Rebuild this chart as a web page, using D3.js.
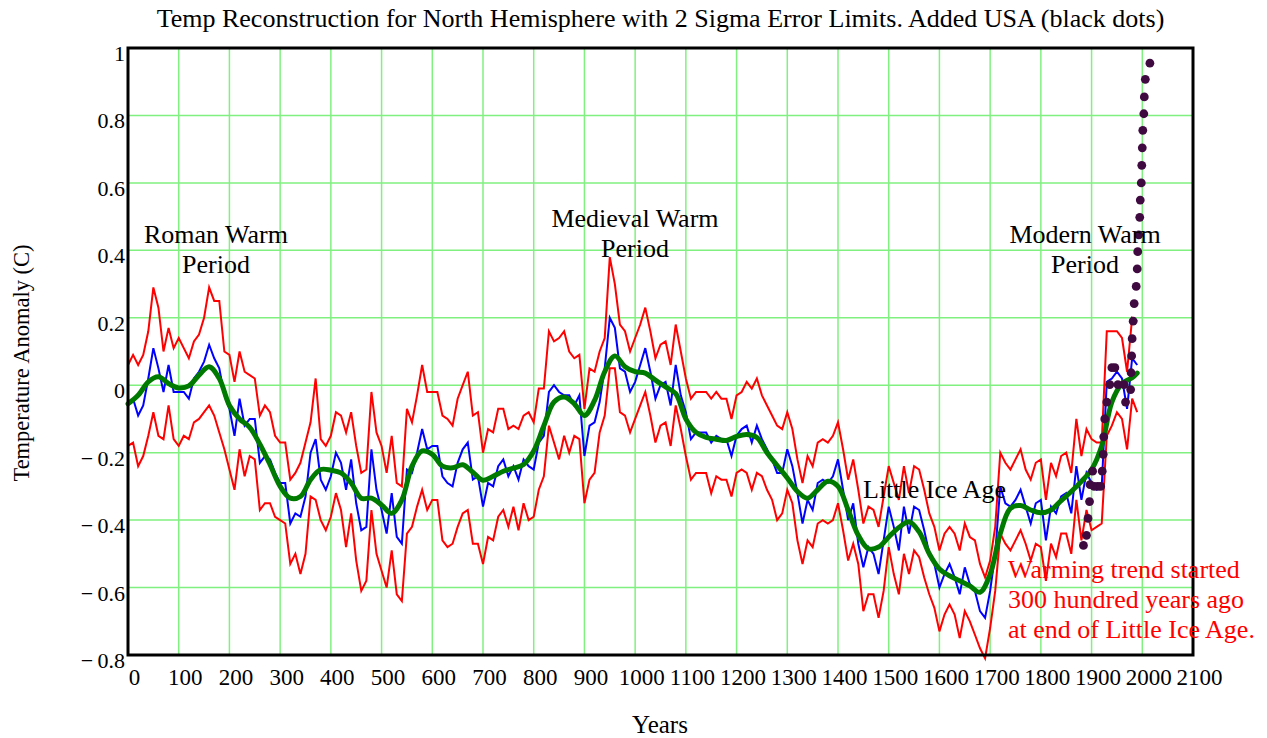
<!DOCTYPE html>
<html>
<head>
<meta charset="utf-8">
<script src="https://cdn.jsdelivr.net/npm/d3@7"></script>
<style>
  body { margin: 0; background: #fff; }
  svg { font-family: "Liberation Serif", "Times New Roman", serif; }
</style>
</head>
<body>
<div id="chart"></div>
<script>
// Chart frame
const FRAME_WIDTH = 1267;
const FRAME_HEIGHT = 738;
const PLOT = {left: 128, right: 1193, top: 48, bottom: 655};

// Decades 0 .. 1990 for the reconstruction series
const years = d3.range(0, 2000, 10);

// Reconstruction (blue), one value per decade
const meanTemp = [
  -0.05,-0.04,-0.09,-0.06,0.02,0.11,0.05,-0.02,0.06,-0.02,
  -0.02,-0.02,-0.04,0.02,0.04,0.07,0.12,0.08,0.05,-0.03,
  -0.07,-0.15,-0.04,-0.12,-0.10,-0.10,-0.23,-0.21,-0.22,-0.26,
  -0.29,-0.29,-0.41,-0.38,-0.39,-0.33,-0.20,-0.16,-0.28,-0.31,
  -0.27,-0.20,-0.23,-0.31,-0.22,-0.35,-0.43,-0.42,-0.19,-0.31,
  -0.37,-0.44,-0.32,-0.45,-0.47,-0.25,-0.26,-0.20,-0.13,-0.19,
  -0.18,-0.18,-0.27,-0.29,-0.30,-0.23,-0.19,-0.17,-0.28,-0.27,
  -0.36,-0.29,-0.30,-0.24,-0.22,-0.27,-0.24,-0.28,-0.22,-0.24,
  -0.25,-0.17,-0.15,-0.02,0.00,-0.02,-0.03,-0.03,-0.06,-0.03,
  -0.21,-0.12,-0.11,-0.05,0.05,0.20,0.17,0.05,0.04,-0.02,
  0.01,0.06,0.11,0.04,-0.04,0.00,0.01,-0.06,0.06,-0.03,
  -0.08,-0.16,-0.14,-0.14,-0.14,-0.17,-0.15,-0.16,-0.16,-0.21,
  -0.15,-0.13,-0.12,-0.17,-0.12,-0.16,-0.19,-0.22,-0.26,-0.26,
  -0.19,-0.24,-0.32,-0.41,-0.34,-0.37,-0.29,-0.28,-0.29,-0.27,
  -0.22,-0.31,-0.40,-0.35,-0.47,-0.54,-0.48,-0.50,-0.56,-0.46,
  -0.36,-0.42,-0.49,-0.36,-0.44,-0.36,-0.37,-0.43,-0.50,-0.53,
  -0.60,-0.56,-0.53,-0.57,-0.62,-0.54,-0.59,-0.61,-0.67,-0.69,
  -0.61,-0.50,-0.30,-0.35,-0.36,-0.34,-0.31,-0.36,-0.41,-0.35,
  -0.34,-0.46,-0.36,-0.38,-0.33,-0.32,-0.38,-0.24,-0.34,-0.26,
  -0.29,-0.31,-0.30,0.01,0.02,0.04,0.02,-0.07,0.08,0.06
];

// Upper 2 sigma limit (red)
const upperTemp = [
  0.06,0.09,0.06,0.09,0.16,0.29,0.23,0.10,0.17,0.11,
  0.14,0.11,0.08,0.13,0.15,0.20,0.29,0.25,0.25,0.10,
  0.09,0.01,0.10,0.04,0.03,0.02,-0.09,-0.06,-0.08,-0.15,
  -0.17,-0.17,-0.28,-0.26,-0.23,-0.17,-0.11,0.02,-0.16,-0.18,
  -0.15,-0.08,-0.09,-0.14,-0.08,-0.18,-0.26,-0.25,-0.02,-0.14,
  -0.18,-0.26,-0.15,-0.29,-0.30,-0.07,-0.11,-0.03,0.06,-0.02,
  -0.02,-0.02,-0.09,-0.10,-0.12,-0.04,0.00,0.04,-0.09,-0.08,
  -0.20,-0.13,-0.14,-0.07,-0.07,-0.13,-0.12,-0.13,-0.09,-0.08,
  -0.11,-0.01,-0.01,0.16,0.13,0.14,0.16,0.10,0.08,0.09,
  -0.07,0.05,0.04,0.10,0.14,0.38,0.30,0.18,0.16,0.10,
  0.14,0.18,0.23,0.16,0.08,0.12,0.13,0.06,0.18,0.10,
  0.02,-0.04,-0.02,-0.02,-0.02,-0.04,-0.02,-0.04,-0.04,-0.10,
  -0.03,-0.02,0.01,-0.01,0.02,-0.03,-0.06,-0.09,-0.12,-0.13,
  -0.08,-0.13,-0.22,-0.29,-0.21,-0.24,-0.17,-0.16,-0.17,-0.15,
  -0.11,-0.19,-0.28,-0.22,-0.31,-0.41,-0.36,-0.37,-0.42,-0.33,
  -0.24,-0.29,-0.34,-0.24,-0.32,-0.24,-0.25,-0.31,-0.38,-0.42,
  -0.49,-0.44,-0.42,-0.44,-0.49,-0.41,-0.45,-0.46,-0.53,-0.57,
  -0.52,-0.42,-0.20,-0.23,-0.25,-0.22,-0.19,-0.25,-0.28,-0.23,
  -0.22,-0.34,-0.23,-0.27,-0.21,-0.20,-0.26,-0.10,-0.21,-0.13,
  -0.16,-0.17,-0.17,0.16,0.16,0.16,0.14,0.04,0.20,0.19
];

// Lower 2 sigma limit (red)
const lowerTemp = [
  -0.18,-0.17,-0.24,-0.21,-0.15,-0.08,-0.15,-0.16,-0.06,-0.16,
  -0.18,-0.15,-0.16,-0.11,-0.10,-0.08,-0.06,-0.09,-0.14,-0.19,
  -0.25,-0.31,-0.19,-0.27,-0.21,-0.22,-0.37,-0.35,-0.35,-0.39,
  -0.40,-0.41,-0.53,-0.50,-0.56,-0.50,-0.33,-0.34,-0.40,-0.43,
  -0.39,-0.32,-0.37,-0.48,-0.38,-0.52,-0.61,-0.58,-0.37,-0.50,
  -0.55,-0.60,-0.49,-0.62,-0.64,-0.44,-0.42,-0.36,-0.31,-0.37,
  -0.34,-0.34,-0.46,-0.48,-0.47,-0.42,-0.38,-0.37,-0.47,-0.47,
  -0.53,-0.45,-0.46,-0.39,-0.37,-0.42,-0.36,-0.43,-0.35,-0.40,
  -0.39,-0.31,-0.27,-0.12,-0.17,-0.22,-0.15,-0.20,-0.15,-0.16,
  -0.35,-0.28,-0.26,-0.14,-0.09,0.05,0.05,-0.08,-0.09,-0.14,
  -0.10,-0.06,-0.02,-0.09,-0.17,-0.12,-0.11,-0.18,-0.06,-0.13,
  -0.21,-0.28,-0.26,-0.26,-0.26,-0.32,-0.27,-0.28,-0.28,-0.33,
  -0.26,-0.25,-0.26,-0.31,-0.26,-0.27,-0.31,-0.34,-0.40,-0.38,
  -0.31,-0.35,-0.46,-0.53,-0.46,-0.48,-0.41,-0.40,-0.41,-0.40,
  -0.35,-0.43,-0.52,-0.47,-0.53,-0.67,-0.62,-0.62,-0.69,-0.61,
  -0.48,-0.56,-0.62,-0.50,-0.56,-0.49,-0.51,-0.57,-0.62,-0.66,
  -0.73,-0.68,-0.65,-0.68,-0.75,-0.67,-0.70,-0.74,-0.78,-0.81,
  -0.72,-0.61,-0.44,-0.47,-0.49,-0.46,-0.43,-0.47,-0.52,-0.47,
  -0.48,-0.58,-0.47,-0.51,-0.44,-0.44,-0.50,-0.34,-0.46,-0.37,
  -0.43,-0.42,-0.41,-0.15,-0.12,-0.08,-0.10,-0.19,-0.04,-0.08
];

// Smoothed reconstruction (green)
const smoothYears = [0,20,40,60,80,100,120,140,160,180,200,220,240,260,280,300,320,340,360,380,
  400,420,440,460,480,500,520,540,560,580,600,620,640,660,680,700,720,740,760,780,
  800,820,840,860,880,900,920,940,960,980,1000,1020,1040,1060,1080,1100,1120,1140,1160,1180,
  1200,1220,1240,1260,1280,1300,1320,1340,1360,1380,1400,1420,1440,1460,1480,1500,1520,1540,1560,1580,
  1600,1620,1640,1660,1680,1700,1720,1740,1760,1780,1800,1820,1840,1860,1880,1900,1920,1940,1960,1980,1990];
const smoothTemp = [-0.055,-0.03,0.01,0.025,0.005,-0.008,-0.002,0.03,0.055,0.02,
  -0.06,-0.10,-0.125,-0.175,-0.235,-0.30,-0.335,-0.33,-0.28,-0.25,
  -0.252,-0.26,-0.29,-0.335,-0.335,-0.355,-0.38,-0.34,-0.24,-0.195,
  -0.205,-0.24,-0.245,-0.236,-0.258,-0.282,-0.27,-0.255,-0.246,-0.235,
  -0.195,-0.12,-0.05,-0.035,-0.055,-0.09,-0.045,0.04,0.087,0.055,
  0.04,0.036,0.015,-0.005,-0.025,-0.10,-0.14,-0.155,-0.16,-0.164,
  -0.152,-0.146,-0.155,-0.20,-0.238,-0.275,-0.315,-0.335,-0.31,-0.285,
  -0.30,-0.37,-0.445,-0.485,-0.48,-0.45,-0.422,-0.405,-0.435,-0.50,
  -0.545,-0.565,-0.58,-0.595,-0.614,-0.56,-0.44,-0.365,-0.357,-0.37,
  -0.378,-0.37,-0.342,-0.315,-0.285,-0.25,-0.18,-0.05,0.005,0.022,0.036];

// USA series (black dots)
const usaYears = [1884,1890,1893,1896,1897,1902,1905,1912,1918,1921,1923,1924,1926,1930,1936,1940,1946,1952,1964,1967,
  1977,1978,1979,1980,1982,1984,1988,1990,1991,1993,1995,1996,1998,1999,2000,2001,2003,2004,2006,2015];
const usaTemp = [-0.475,-0.445,-0.395,-0.345,-0.295,-0.255,-0.30,-0.30,-0.30,-0.255,-0.205,-0.153,-0.10,-0.05,0.002,0.052,0.052,0.002,0.002,-0.05,
  -0.013,0.037,0.087,0.138,0.19,0.242,0.293,0.345,0.396,0.446,0.498,0.549,0.60,0.652,0.704,0.756,0.805,0.855,0.907,0.955];

// Tick values
const xTicks = d3.range(0, 2101, 100);
const yTicks = [-0.8,-0.6,-0.4,-0.2,0,0.2,0.4,0.6,0.8,1];

const SVG = d3.select("#chart")
  .append("svg")
    .attr("width", FRAME_WIDTH)
    .attr("height", FRAME_HEIGHT);

const X_SCALE = d3.scaleLinear().domain([0, 2100]).range([PLOT.left, PLOT.right]);
const Y_SCALE = d3.scaleLinear().domain([-0.8, 1]).range([PLOT.bottom, PLOT.top]);

// grid
SVG.append("g").selectAll("line")
  .data(xTicks.slice(1, -1))
  .enter().append("line")
    .attr("x1", d => X_SCALE(d)).attr("x2", d => X_SCALE(d))
    .attr("y1", PLOT.top).attr("y2", PLOT.bottom)
    .attr("stroke", "#80f080").attr("stroke-width", 1.5);

SVG.append("g").selectAll("line")
  .data(yTicks.slice(1, -1))
  .enter().append("line")
    .attr("x1", PLOT.left).attr("x2", PLOT.right)
    .attr("y1", d => Y_SCALE(d)).attr("y2", d => Y_SCALE(d))
    .attr("stroke", "#80f080").attr("stroke-width", 1.5);

// series
function seriesLine(vals, xs) {
  return d3.line()
    .x((d, i) => X_SCALE(xs[i]))
    .y(d => Y_SCALE(d))(vals);
}

SVG.append("path").attr("d", seriesLine(upperTemp, years))
  .attr("fill", "none").attr("stroke", "#ff0000").attr("stroke-width", 2);
SVG.append("path").attr("d", seriesLine(lowerTemp, years))
  .attr("fill", "none").attr("stroke", "#ff0000").attr("stroke-width", 2);
SVG.append("path").attr("d", seriesLine(meanTemp, years))
  .attr("fill", "none").attr("stroke", "#0000ff").attr("stroke-width", 2);

const smoothLine = d3.line()
  .curve(d3.curveCatmullRom)
  .x((d, i) => X_SCALE(smoothYears[i]))
  .y(d => Y_SCALE(d));
SVG.append("path").attr("d", smoothLine(smoothTemp))
  .attr("fill", "none").attr("stroke", "#007a00").attr("stroke-width", 5)
  .attr("stroke-linejoin", "round").attr("stroke-linecap", "round");

SVG.append("g").selectAll("circle")
  .data(usaTemp)
  .enter().append("circle")
    .attr("cx", (d, i) => X_SCALE(usaYears[i]))
    .attr("cy", d => Y_SCALE(d))
    .attr("r", 4.4)
    .attr("fill", "#3f0a40");

// frame
SVG.append("rect")
  .attr("x", PLOT.left).attr("y", PLOT.top)
  .attr("width", PLOT.right - PLOT.left).attr("height", PLOT.bottom - PLOT.top)
  .attr("fill", "none").attr("stroke", "#000").attr("stroke-width", 3);

// axes
const xAxis = SVG.append("g")
  .attr("transform", "translate(0," + PLOT.bottom + ")")
  .call(d3.axisBottom(X_SCALE).tickValues(xTicks).tickSize(0).tickPadding(14).tickFormat(d => d));
xAxis.select(".domain").remove();
xAxis.selectAll("text")
  .attr("dx", 6)
  .style("font-family", "Liberation Serif")
  .style("font-size", "23px")
  .attr("fill", "#000");

const yAxis = SVG.append("g")
  .attr("transform", "translate(" + PLOT.left + ",0)")
  .call(d3.axisLeft(Y_SCALE).tickValues(yTicks).tickSize(0).tickPadding(3)
    .tickFormat(d => d < 0 ? "\u2212\u2009" + Math.abs(d) : String(d)));
yAxis.select(".domain").remove();
yAxis.selectAll("text")
  .attr("dy", 12.5)
  .style("font-family", "Liberation Serif")
  .style("font-size", "22px")
  .attr("fill", "#000");

// titles
SVG.append("text")
  .attr("x", 660.5).attr("y", 27)
  .attr("text-anchor", "middle")
  .style("font-size", "26px")
  .text("Temp Reconstruction for North Hemisphere with 2 Sigma Error Limits. Added USA (black dots)");

SVG.append("text")
  .attr("x", 660).attr("y", 733)
  .attr("text-anchor", "middle")
  .style("font-size", "25px")
  .text("Years");

SVG.append("text")
  .attr("transform", "translate(29,363) rotate(-90)")
  .attr("text-anchor", "middle")
  .style("font-size", "22.5px")
  .text("Temperature Anomaly (C)");

// annotations
function note(lines, x, y, anchor, color) {
  const t = SVG.append("text")
    .attr("text-anchor", anchor)
    .attr("fill", color)
    .style("font-size", "26px");
  lines.forEach((s, i) => {
    t.append("tspan").attr("x", x).attr("y", y + i * 30).text(s);
  });
}

note(["Roman Warm", "Period"], 216, 243, "middle", "#000");
note(["Medieval Warm", "Period"], 635, 227, "middle", "#000");
note(["Modern Warm", "Period"], 1085, 243, "middle", "#000");
note(["Little Ice Age"], 863, 498, "start", "#000");
note(["Warming trend started", "300 hundred years ago", "at end of Little Ice Age."], 1008, 578, "start", "#ff0000");
</script>
</body>
</html>
